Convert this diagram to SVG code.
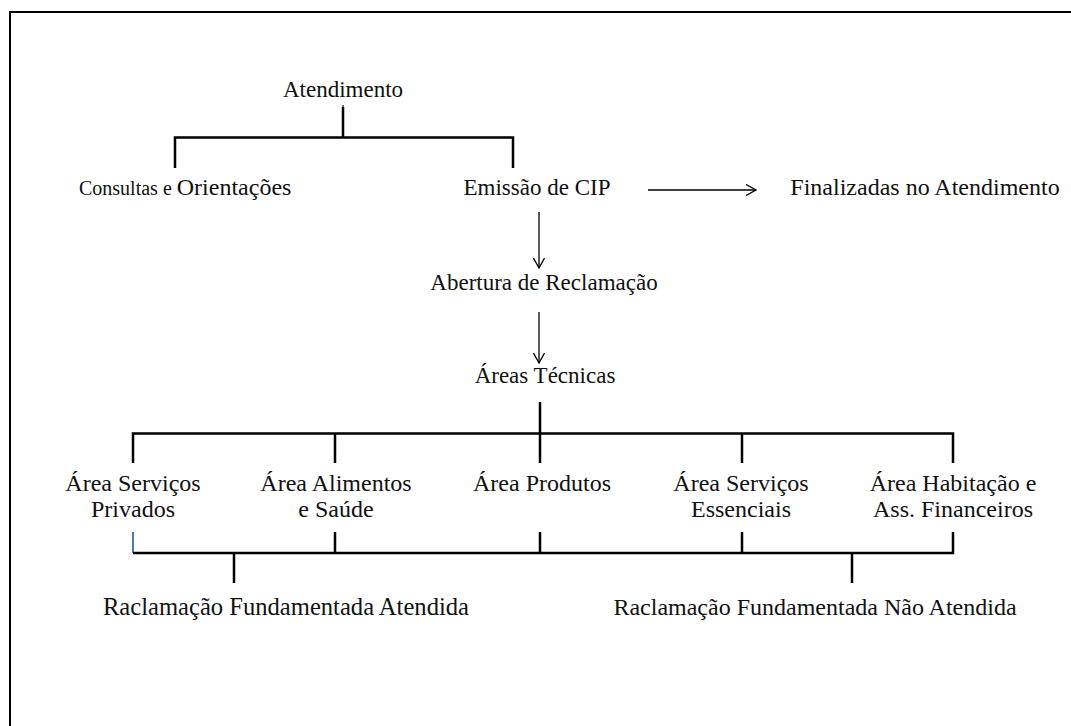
<svg xmlns="http://www.w3.org/2000/svg" width="1071" height="726" viewBox="0 0 1071 726">
<defs>
<style>
text{font-family:"Liberation Serif","Times New Roman",serif;font-size:23px;fill:#111;}
.c{text-anchor:middle;}
.b{font-size:24px;}
.bb{font-size:24.6px;}
.ln{stroke:#000;stroke-width:2.5;fill:none;}
.ar{stroke:#000;stroke-width:1.3;fill:none;}
.blue{stroke:#4a78b8;stroke-width:2;fill:none;}
</style>
<marker id="ah" viewBox="0 0 12 12" refX="11" refY="6" markerWidth="12" markerHeight="12" markerUnits="userSpaceOnUse" orient="auto">
<path d="M1,0.5 L11,6 L1,11.5" fill="none" stroke="#000" stroke-width="1.3"/>
</marker>
</defs>
<rect width="1071" height="726" fill="#fff"/>
<rect x="10" y="12" width="1100" height="800" fill="none" stroke="#000" stroke-width="2"/>

<g id="connectors">
<line class="blue" x1="343" y1="105" x2="343" y2="107.5"/>
<path class="ln" d="M343,107 V137.5 M175,168 V137.5 H513 V168"/>
<line class="ar" x1="648" y1="190" x2="756" y2="190" marker-end="url(#ah)"/>
<line class="ar" x1="539" y1="212" x2="539" y2="268" marker-end="url(#ah)"/>
<line class="ar" x1="539" y1="312" x2="539" y2="363" marker-end="url(#ah)"/>
<path class="ln" d="M540,402 V433.5 M133,463 V433.5 H953 V463 M335,433.5 V463 M540,433.5 V463 M742,433.5 V463"/>
<line class="blue" x1="133" y1="532" x2="133" y2="553"/>
<path class="ln" d="M133,553 H953 V532 M335,532 V553 M540,532 V553 M742,532 V553 M234,553 V583 M852,553 V583"/>
</g>

<g id="n-atendimento"><text class="c" x="343" y="97">Atendimento</text></g>
<g id="n-consultas"><text x="79" y="195"><tspan font-size="20">Consultas e </tspan><tspan font-size="24">Orientações</tspan></text></g>
<g id="n-emissao"><text class="c" x="537" y="195">Emissão de CIP</text></g>
<g id="n-finalizadas"><text class="c b" x="925" y="195">Finalizadas no Atendimento</text></g>
<g id="n-abertura"><text class="c" x="544" y="290">Abertura de Reclamação</text></g>
<g id="n-areas"><text class="c" x="545" y="383">Áreas Técnicas</text></g>
<g id="n-privados"><text class="c b" x="133" y="491">Área Serviços</text><text class="c b" x="133" y="517">Privados</text></g>
<g id="n-alimentos"><text class="c b" x="336" y="491">Área Alimentos</text><text class="c b" x="336" y="517">e Saúde</text></g>
<g id="n-produtos"><text class="c b" x="542" y="491">Área Produtos</text></g>
<g id="n-essenciais"><text class="c b" x="741" y="491">Área Serviços</text><text class="c b" x="741" y="517">Essenciais</text></g>
<g id="n-habitacao"><text class="c b" x="953" y="491">Área Habitação e</text><text class="c b" x="953" y="517">Ass. Financeiros</text></g>
<g id="n-atendida"><text class="c bb" x="286" y="615">Raclamação Fundamentada Atendida</text></g>
<g id="n-naoatendida"><text class="c b" x="815" y="615">Raclamação Fundamentada Não Atendida</text></g>
</svg>
